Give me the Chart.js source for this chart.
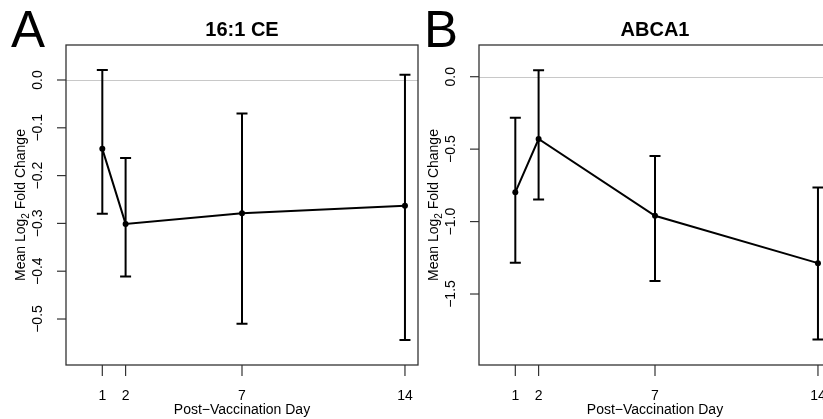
<!DOCTYPE html>
<html>
<head>
<meta charset="utf-8">
<script src="https://cdn.jsdelivr.net/npm/chart.js@4.4.0/dist/chart.umd.min.js"></script>
<style>
  html, body { margin: 0; padding: 0; background: #fff; overflow: hidden; width: 823px; height: 419px; }
  .panel { position: absolute; top: 0; }
  #wrapA { left: 0; }
  #wrapB { left: 413px; }
</style>
</head>
<body>
<div class="panel" id="wrapA"><canvas id="chartA" width="424" height="419"></canvas></div>
<div class="panel" id="wrapB"><canvas id="chartB" width="424" height="419"></canvas></div>
<script>
// ---- data ----
const days = [1, 2, 7, 14];
const xTicks = [1, 2, 7, 14];

const ceMean  = [-0.144, -0.301, -0.279, -0.263];
const ceUpper = [0.021, -0.163, -0.070, 0.011];
const ceLower = [-0.280, -0.411, -0.510, -0.544];
const ceYTicks = [0.0, -0.1, -0.2, -0.3, -0.4, -0.5];
const ceYLabels = ["0.0", "\u22120.1", "\u22120.2", "\u22120.3", "\u22120.4", "\u22120.5"];

const abcaMean  = [-0.798, -0.430, -0.960, -1.287];
const abcaUpper = [-0.283, 0.044, -0.548, -0.764];
const abcaLower = [-1.284, -0.847, -1.411, -1.814];
const abcaYTicks = [0.0, -0.5, -1.0, -1.5];
const abcaYLabels = ["0.0", "\u22120.5", "\u22121.0", "\u22121.5"];

const FONT = '"Liberation Sans", Arial, Helvetica, sans-serif';

function makePanel(canvasId, letter, title, mean, upper, lower, yTicks, yLabels, yMin, yMax) {
  const decor = {
    id: 'decor_' + canvasId,
    beforeDatasetsDraw(chart) {
      const ctx = chart.ctx, a = chart.chartArea;
      const ys = chart.scales.y;
      ctx.save();
      ctx.strokeStyle = '#c8c8c8';
      ctx.lineWidth = 1;
      const y0 = Math.round(ys.getPixelForValue(0)) + 0.5;
      ctx.beginPath(); ctx.moveTo(a.left, y0); ctx.lineTo(a.right, y0); ctx.stroke();
      ctx.restore();
    },
    afterDatasetsDraw(chart) {
      const ctx = chart.ctx, a = chart.chartArea;
      const xs = chart.scales.x, ys = chart.scales.y;
      ctx.save();
      // error bars
      ctx.strokeStyle = '#000';
      ctx.lineWidth = 2;
      const cap = 5.5;
      for (let i = 0; i < days.length; i++) {
        const x = xs.getPixelForValue(days[i]);
        const yu = ys.getPixelForValue(upper[i]);
        const yl = ys.getPixelForValue(lower[i]);
        ctx.beginPath();
        ctx.moveTo(x, yu); ctx.lineTo(x, yl);
        ctx.moveTo(x - cap, yu); ctx.lineTo(x + cap, yu);
        ctx.moveTo(x - cap, yl); ctx.lineTo(x + cap, yl);
        ctx.stroke();
      }
      // box
      ctx.strokeStyle = '#333';
      ctx.lineWidth = 1.3;
      ctx.strokeRect(a.left, a.top, a.right - a.left, a.bottom - a.top);
      // y ticks
      ctx.lineWidth = 1.2;
      ctx.fillStyle = '#000';
      ctx.font = '14px ' + FONT;
      ctx.textAlign = 'center';
      ctx.textBaseline = 'middle';
      for (let i = 0; i < yTicks.length; i++) {
        const y = ys.getPixelForValue(yTicks[i]);
        ctx.beginPath(); ctx.moveTo(a.left - 9, y); ctx.lineTo(a.left, y); ctx.stroke();
        ctx.save();
        ctx.translate(a.left - 28, y);
        ctx.rotate(-Math.PI / 2);
        ctx.fillText(yLabels[i], 0, 0);
        ctx.restore();
      }
      // x ticks
      for (let i = 0; i < xTicks.length; i++) {
        const x = xs.getPixelForValue(xTicks[i]);
        ctx.beginPath(); ctx.moveTo(x, a.bottom); ctx.lineTo(x, a.bottom + 11); ctx.stroke();
        ctx.fillText(String(xTicks[i]), x, a.bottom + 31);
      }
      // x title
      const cx = (a.left + a.right) / 2;
      ctx.fillText('Post\u2212Vaccination Day', cx, a.bottom + 45);
      // y title with subscript
      ctx.save();
      ctx.translate(a.left - 45, (a.top + a.bottom) / 2);
      ctx.rotate(-Math.PI / 2);
      const p1 = 'Mean Log', p2 = '2', p3 = ' Fold Change';
      ctx.font = '14px ' + FONT;
      const w1 = ctx.measureText(p1).width, w3 = ctx.measureText(p3).width;
      ctx.font = '10px ' + FONT;
      const w2 = ctx.measureText(p2).width;
      const total = w1 + w2 + w3;
      let sx = -total / 2;
      ctx.textAlign = 'left';
      ctx.font = '14px ' + FONT;
      ctx.fillText(p1, sx, 0);
      ctx.font = '10px ' + FONT;
      ctx.fillText(p2, sx + w1, 5);
      ctx.font = '14px ' + FONT;
      ctx.fillText(p3, sx + w1 + w2, 0);
      ctx.restore();
      // title
      ctx.font = 'bold 20px ' + FONT;
      ctx.textAlign = 'center';
      ctx.fillText(title, cx, 30);
      // panel letter
      ctx.font = '51px ' + FONT;
      ctx.textAlign = 'left';
      ctx.textBaseline = 'alphabetic';
      ctx.fillText(letter, 11, 47);
      ctx.restore();
    }
  };

  return new Chart(document.getElementById(canvasId), {
    type: 'line',
    data: {
      datasets: [{
        data: days.map((d, i) => ({ x: d, y: mean[i] })),
        borderColor: '#000',
        backgroundColor: '#000',
        borderWidth: 2,
        pointRadius: 3,
        pointBorderWidth: 0,
        pointBackgroundColor: '#000',
        tension: 0,
        fill: false,
        clip: false
      }]
    },
    options: {
      responsive: false,
      animation: false,
      devicePixelRatio: 1,
      layout: { padding: { left: 66, top: 45, right: 6, bottom: 54 } },
      plugins: { legend: { display: false }, tooltip: { enabled: false }, title: { display: false } },
      scales: {
        x: { type: 'linear', min: -0.56, max: 14.56, display: false },
        y: { type: 'linear', min: yMin, max: yMax, display: false }
      }
    },
    plugins: [decor]
  });
}

makePanel('chartA', 'A', '16:1 CE', ceMean, ceUpper, ceLower, ceYTicks, ceYLabels, -0.5962, 0.0732);
makePanel('chartB', 'B', 'ABCA1', abcaMean, abcaUpper, abcaLower, abcaYTicks, abcaYLabels, -1.990, 0.2188);
</script>
</body>
</html>
